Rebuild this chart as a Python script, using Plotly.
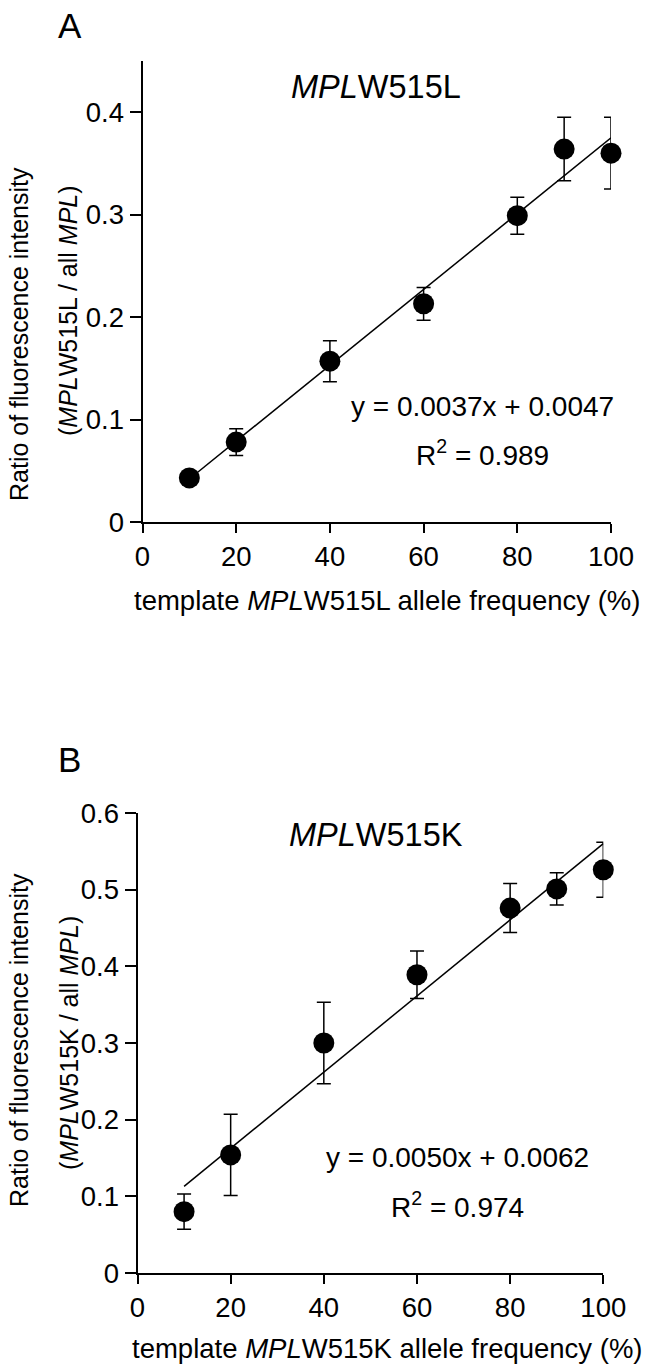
import plotly.graph_objects as go

# ---- data ----
freq = [10, 20, 40, 60, 80, 90, 100]

ratio_L = [0.043, 0.078, 0.157, 0.213, 0.299, 0.364, 0.360]
err_L = [0.006, 0.013, 0.020, 0.016, 0.018, 0.031, 0.035]
fit_L_x = [10, 100]
fit_L_y = [0.042, 0.375]

ratio_K = [0.080, 0.154, 0.300, 0.389, 0.476, 0.501, 0.526]
err_K = [0.023, 0.053, 0.053, 0.031, 0.032, 0.021, 0.036]
fit_K_x = [10, 100]
fit_K_y = [0.113, 0.560]

x_ticks = [0, 20, 40, 60, 80, 100]
x_tick_text = ["0", "20", "40", "60", "80", "100"]
y_ticks_L = [0, 0.1, 0.2, 0.3, 0.4]
y_tick_text_L = ["0", "0.1", "0.2", "0.3", "0.4"]
y_ticks_K = [0, 0.1, 0.2, 0.3, 0.4, 0.5, 0.6]
y_tick_text_K = ["0", "0.1", "0.2", "0.3", "0.4", "0.5", "0.6"]

FONT = "Liberation Sans, Arial, sans-serif"
W, H = 650, 1370
OFF = 0  # body margin removed below via post_script

fig = go.Figure()


def add_panel(xref, yref, y, err, fx, fy):
    fig.add_trace(go.Scatter(
        x=fx, y=fy, mode="lines", line=dict(color="black", width=1.5),
        xaxis=xref, yaxis=yref, showlegend=False, hoverinfo="skip",
        cliponaxis=False))
    fig.add_trace(go.Scatter(
        x=freq, y=y, mode="markers",
        marker=dict(color="black", size=21, symbol="circle"),
        error_y=dict(type="data", array=err, visible=True, color="black",
                     thickness=1.5, width=7),
        xaxis=xref, yaxis=yref, showlegend=False, cliponaxis=False))


add_panel("x", "y", ratio_L, err_L, fit_L_x, fit_L_y)
add_panel("x2", "y2", ratio_K, err_K, fit_K_x, fit_K_y)


def px_x(p):
    return (p - OFF) / W


def px_y(p):
    return (H - (p - OFF)) / H


axis_x = dict(showline=True, linecolor="black", linewidth=2,
              ticks="outside", ticklen=9, tickwidth=2, tickcolor="black",
              showgrid=False, zeroline=False, automargin=False,
              tickfont=dict(family=FONT, size=27.5, color="black"))
axis_y = dict(axis_x)
axis_y["ticklen"] = 11

fig.update_layout(
    template="none",
    width=W, height=H, margin=dict(l=0, r=0, t=0, b=0, pad=0),
    paper_bgcolor="white", plot_bgcolor="white",
    font=dict(family=FONT, color="black"),
    showlegend=False,
    xaxis=dict(domain=[px_x(142.5), px_x(611)], range=[0, 100], tickvals=x_ticks,
               ticktext=x_tick_text, anchor="y", **axis_x),
    yaxis=dict(domain=[px_y(522), px_y(61)], range=[0, 0.45], tickvals=y_ticks_L,
               ticktext=y_tick_text_L, anchor="x", **axis_y),
    xaxis2=dict(domain=[px_x(137.5), px_x(603.3)], range=[0, 100], tickvals=x_ticks,
                ticktext=x_tick_text, anchor="y2", **axis_x),
    yaxis2=dict(domain=[px_y(1273), px_y(813)], range=[0, 0.6], tickvals=y_ticks_K,
                ticktext=y_tick_text_K, anchor="x2", **axis_y),
)


def ann(text, x, y, size, angle=0):
    fig.add_annotation(text=text, x=px_x(x), y=px_y(y), xref="paper", yref="paper",
                       showarrow=False, textangle=angle, xanchor="center", yanchor="middle",
                       font=dict(family=FONT, size=size, color="black"))


# Panel A
ann("A", 70, 25, 35)
ann("<i>MPL</i>W515L", 376, 87, 32.5)
ann("y = 0.0037x + 0.0047", 482, 407, 28)
ann("R<sup>2</sup> = 0.989", 482, 453, 28)
ann("template <i>MPL</i>W515L allele frequency (%)", 387, 600, 27.5)
ann("Ratio of fluorescence intensity", 19, 334, 25, -90)
ann("(<i>MPL</i>W515L / all <i>MPL</i>)", 68, 311, 25, -90)

# Panel B
ann("B", 69, 759, 35)
ann("<i>MPL</i>W515K", 376, 835, 32.5)
ann("y = 0.0050x + 0.0062", 457, 1157, 28)
ann("R<sup>2</sup> = 0.974", 457, 1205, 28)
ann("template <i>MPL</i>W515K allele frequency (%)", 387, 1348, 27.5)
ann("Ratio of fluorescence intensity", 19, 1040, 25, -90)
ann("(<i>MPL</i>W515K / all <i>MPL</i>)", 69, 1043, 25, -90)

fig.write_html("out.html", config={"displayModeBar": False},
               post_script="document.body.style.margin='0px';")
